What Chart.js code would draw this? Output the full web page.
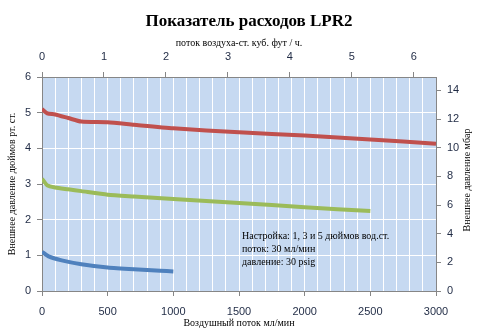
<!DOCTYPE html>
<html>
<head>
<meta charset="utf-8">
<script src="https://cdn.jsdelivr.net/npm/chart.js@4/dist/chart.umd.min.js"></script>
<style>
  html, body { margin: 0; padding: 0; background: #fff; }
  #wrap { width: 477px; height: 331px; }
</style>
</head>
<body>
<div id="wrap"><canvas id="lpr2"></canvas></div>
<script>
// расход, мл/мин и давление, дюймы вод. ст.
var flow5 = [0, 40, 100, 200, 300, 500, 700, 1000, 1500, 2000, 2500, 3000];
var press5 = [5.10, 4.98, 4.95, 4.85, 4.75, 4.73, 4.66, 4.56, 4.45, 4.36, 4.25, 4.13];
var flow3 = [0, 40, 100, 200, 300, 500, 700, 1000, 1500, 2000, 2500];
var press3 = [3.15, 2.96, 2.90, 2.85, 2.80, 2.70, 2.65, 2.58, 2.47, 2.35, 2.24];
var flow1 = [0, 50, 150, 300, 500, 700, 900, 1000];
var press1 = [1.10, 0.97, 0.86, 0.75, 0.66, 0.61, 0.57, 0.55];

var bottomTicks = [0, 500, 1000, 1500, 2000, 2500, 3000];
var topTicks = [0, 1, 2, 3, 4, 5, 6];
var rightTicks = [0, 2, 4, 6, 8, 10, 12, 14];
var noteLines = ["Настройка: 1, 3 и 5 дюймов вод.ст.", "поток: 30 мл/мин", "давление: 30 psig"];

var FLOW_MAX = 3000;
var CFH_MAX = FLOW_MAX * 60 / 28316.85;   // та же шкала в куб. фут/ч
var INCH_MAX = 6;
var MBAR_MAX = INCH_MAX * 2.4884;

function pts(xs, ys){
    var out = [];
    for(let i=0;i<xs.length;i++){ out.push({x: xs[i], y: ys[i]}); }
    return out;
}

var axisGray = '#868686';
var tickColor = '#1f2a44';
var tickFont = {family: "'Liberation Sans', Arial, sans-serif", size: 11};
var serif = "'Liberation Serif', 'Times New Roman', serif";

//********************************************** */
var plotBack = {
    id: 'plotBack',
    beforeDraw(chart){
        const a = chart.chartArea, c = chart.ctx;
        c.save();
        c.fillStyle = '#c6d9f1';
        c.fillRect(a.left, a.top, a.right - a.left, a.bottom - a.top);
        c.restore();
    }
};
var extraText = {
    id: 'extraText',
    afterDraw(chart){
        const c = chart.ctx, a = chart.chartArea;
        c.save();
        c.fillStyle = '#000';
        // заголовок
        c.font = 'bold 17px ' + serif;
        c.textAlign = 'center';
        c.textBaseline = 'middle';
        c.fillText('Показатель расходов LPR2', 249, 22);
        // подпись правой оси
        c.font = '10px ' + serif;
        c.translate(467, (a.top + a.bottom) / 2 - 4);
        c.rotate(-Math.PI / 2);
        c.fillText('Внешнее давление мбар', 0, 0);
        c.restore();

        c.save();
        c.fillStyle = '#000';
        c.font = '10px ' + serif;
        c.textBaseline = 'middle';
        const x = chart.scales.x.getPixelForValue(1523);
        const y = chart.scales.y.getPixelForValue(1.54);
        for(let i=0;i<noteLines.length;i++){
            c.fillText(noteLines[i], x, y + i*13);
        }
        c.restore();
    }
};

function line(data, color){
    return {
        data: data,
        borderColor: color,
        borderWidth: 4,
        pointRadius: 0,
        tension: 0.2,
        fill: false,
        xAxisID: 'x',
        yAxisID: 'y'
    };
}

new Chart("lpr2", {
    type: "scatter",
    data: {
        datasets: [
            line(pts(flow5, press5), '#c0504d'),
            line(pts(flow3, press3), '#9bbb59'),
            line(pts(flow1, press1), '#4f81bd')
        ]
    },
    options: {
        responsive: true,
        maintainAspectRatio: false,
        animation: false,
        showLine: true,
        layout: {padding: {left: 0, right: 0, top: 30, bottom: 0}},
        scales: {
            x: {
                type: 'linear', position: 'bottom',
                min: 0, max: FLOW_MAX,
                afterFit: s => { s.height = 40; },
                ticks: {
                    stepSize: 100, autoSkip: false, maxRotation: 0, minRotation: 0,
                    color: tickColor, font: tickFont, padding: 9,
                    callback: v => bottomTicks.includes(v) ? v : ''
                },
                grid: {
                    color: '#ffffff', lineWidth: 1, tickLength: 5,
                    tickColor: ctx => (ctx.tick && ctx.tick.value % 500 === 0) ? axisGray : 'rgba(0,0,0,0)'
                },
                border: {color: axisGray},
                title: {display: true, text: 'Воздушный поток мл/мин', color: '#000', font: {family: serif, size: 10}, padding: {top: 0, bottom: 2}}
            },
            x2: {
                type: 'linear', position: 'top',
                min: 0, max: CFH_MAX,
                afterFit: s => { s.height = 47; },
                afterBuildTicks: s => { s.ticks = topTicks.map(v => ({value: v})); },
                ticks: {maxRotation: 0, autoSkip: false, color: tickColor, font: tickFont, padding: 8},
                grid: {drawOnChartArea: false, tickLength: 5, tickColor: axisGray},
                border: {color: axisGray},
                title: {display: true, text: 'поток воздуха-ст. куб. фут / ч.', color: '#000', font: {family: serif, size: 10}, padding: {top: 7, bottom: 2}}
            },
            y: {
                position: 'left',
                min: 0, max: INCH_MAX,
                afterFit: s => { s.width = 42; },
                ticks: {stepSize: 1, color: tickColor, font: tickFont, padding: 6},
                grid: {color: '#ffffff', tickLength: 5, tickColor: axisGray},
                border: {color: axisGray},
                title: {display: true, text: 'Внешнее давление дюймов рт. ст.', color: '#000', font: {family: serif, size: 10}, padding: {top: 6, bottom: 0}}
            },
            y2: {
                position: 'right',
                min: 0, max: MBAR_MAX,
                afterFit: s => { s.width = 41; },
                afterBuildTicks: s => { s.ticks = rightTicks.map(v => ({value: v})); },
                ticks: {autoSkip: false, color: tickColor, font: tickFont, padding: 6},
                grid: {drawOnChartArea: false, tickLength: 5, tickColor: axisGray},
                border: {color: axisGray}
            }
        },
        plugins: {
            legend: {display: false},
            tooltip: {enabled: false},
            title: {display: false}
        }
    },
    plugins: [plotBack, extraText]
});
</script>
</body>
</html>
